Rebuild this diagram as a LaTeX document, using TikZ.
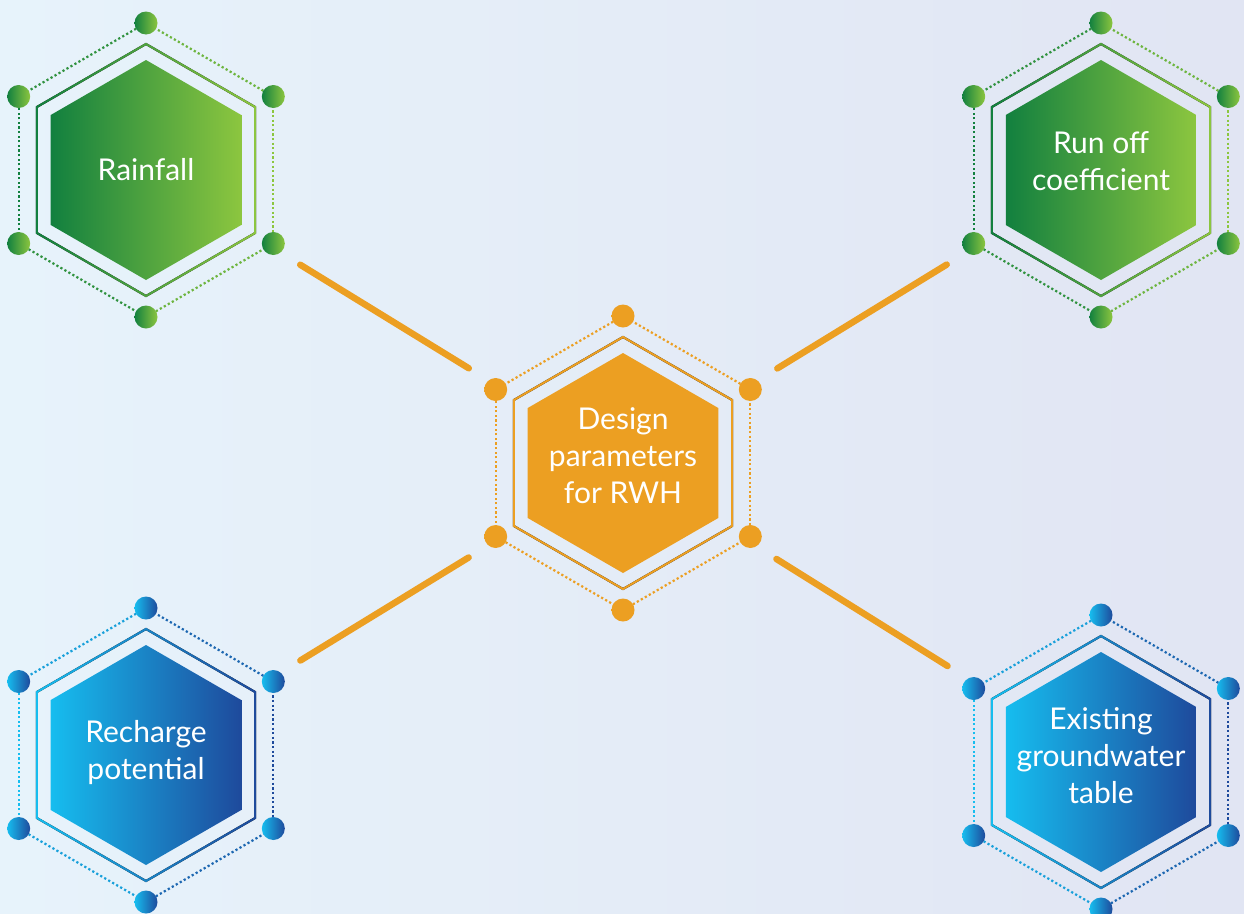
\documentclass[tikz,border=0pt]{standalone}
\usepackage{fontspec}
\setmainfont{Lato}
\usetikzlibrary{shapes.geometric}
\definecolor{greendark}{HTML}{12803F}
\definecolor{greenlight}{HTML}{8CC63F}
\definecolor{bluelight}{HTML}{16BDEF}
\definecolor{bluedark}{HTML}{1E4A9C}
\definecolor{rwhorange}{HTML}{EC9F22}
\definecolor{bgleft}{HTML}{E7F3FB}
\definecolor{bgright}{HTML}{E1E5F3}

\begin{document}
\begin{tikzpicture}[
      x=1pt, y=-1pt,
      hexagon/.style={
         regular polygon,
         regular polygon sides=6,
         shape border rotate=30,
         minimum size=220pt,
         inner sep=0pt
      },
      hextext/.style={
         inner sep=0pt,
         text=white,
         align=center,
         font=\fontsize{30}{37}\selectfont
      },
      vertex/.style={
         circle,
         minimum size=23pt,
         inner sep=0pt
      },
      frame/.style={even odd rule},
      dots/.style={line width=2.2pt, dash pattern=on 2.2pt off 2.4pt},
      link/.style={
         line width=6.5pt, draw=rwhorange, line cap=round,
         shorten <=181pt, shorten >=181pt
      }
    ]
    \useasboundingbox (0,0) rectangle (1244,913);
    \fill[left color=bgleft, right color=bgright] (0,0) rectangle (1244,913);

    \foreach \name/\px/\py/\ca/\cb/\dy/\txt in {
        rain/146/170/greendark/greenlight/0/Rainfall,
        runoff/1101/170/greendark/greenlight/9/{Run off\\coefficient},
        design/623/463/rwhorange/rwhorange/7/{Design\\parameters\\for RWH},
        recharge/146/755/bluelight/bluedark/2/{Recharge\\potential},
        groundwater/1101/762/bluelight/bluedark/6/{Existing\\groundwater\\table}} {
      \begin{scope}[shift={(\px,\py)}]
        % dotted outline, darker side left
        \foreach \a/\m in {30/25, 90/75, 150/100, 210/75, 270/25, 330/0}
          \draw[dots, \ca!\m!\cb] (\a:147) -- (\a+60:147);
        % thin frame
        \fill[frame, left color=\ca, right color=\cb]
          (90:127.2) -- (150:127.2) -- (210:127.2) -- (270:127.2) -- (330:127.2) -- (30:127.2) -- cycle
          (90:124.8) -- (150:124.8) -- (210:124.8) -- (270:124.8) -- (330:124.8) -- (30:124.8) -- cycle;
        \node (\name) [hexagon, left color=\ca, right color=\cb] at (0,0) {};
        \node (\name-text) [hextext, yshift=\dy pt] at (\name) {\txt};
        \foreach \a in {30,90,...,330}
          \node (\name-\a) [vertex, left color=\ca, right color=\cb] at (\a:147) {};
      \end{scope}
    }

    \draw[link] (rain.center) -- (design.center);
    \draw[link] (runoff.center) -- (design.center);
    \draw[link] (recharge.center) -- (design.center);
    \draw[link] (groundwater.center) -- (design.center);
\end{tikzpicture}
\end{document}
